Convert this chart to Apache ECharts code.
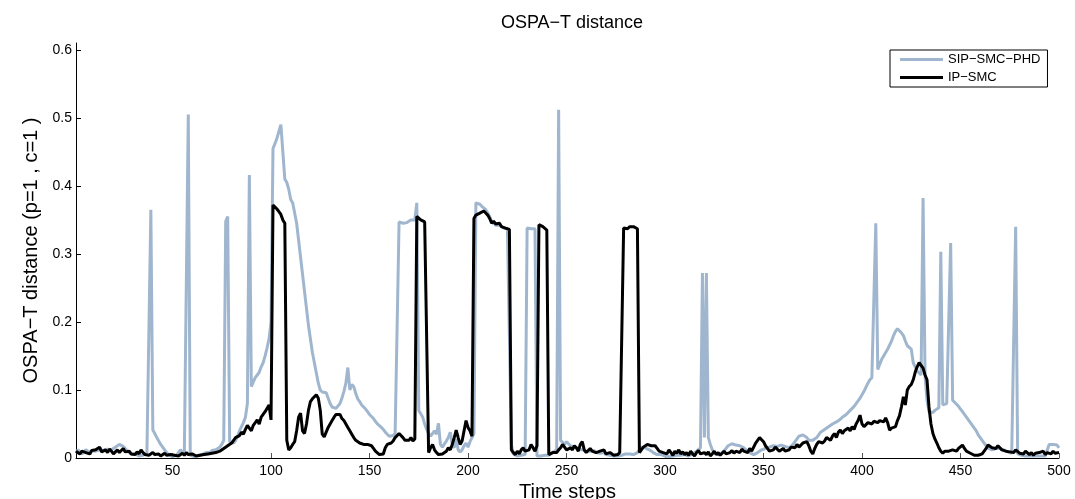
<!DOCTYPE html>
<html>
<head>
<meta charset="utf-8">
<script src="https://cdn.jsdelivr.net/npm/echarts@6/dist/echarts.min.js"></script>
<style>html,body{margin:0;padding:0;background:#fff}#c{width:1075px;height:499px}</style>
</head>
<body>
<div id="c"></div>
<script>
const FONT = "'Liberation Sans', Arial, Helvetica, sans-serif";
const titleText = "OSPA\u2212T distance";
const xName = "Time steps";
const yName = "OSPA\u2212T distance (p=1 , c=1 )";
const seriesNames = ["SIP\u2212SMC\u2212PHD", "IP\u2212SMC"];
const xTicks = [50, 100, 150, 200, 250, 300, 350, 400, 450, 500];
const yTicks = [0, 0.1, 0.2, 0.3, 0.4, 0.5, 0.6];

// SIP-SMC-PHD, time steps 1..500
const sipSmcPhd = [
0.008,0.012,0.010,0.006,0.009,0.012,0.010,0.008,0.011,0.013,
0.010,0.009,0.012,0.014,0.011,0.010,0.013,0.015,0.012,0.014,
0.016,0.018,0.020,0.022,0.017,0.014,0.010,0.008,0.006,0.005,
0.006,0.004,0.003,0.005,0.004,0.006,0.008,0.010,0.365,0.041,
0.036,0.030,0.025,0.020,0.016,0.012,0.008,0.005,0.003,0.002,
0.002,0.004,0.008,0.012,0.010,0.006,0.004,0.505,0.004,0.003,
0.002,0.003,0.004,0.006,0.005,0.007,0.008,0.010,0.008,0.011,
0.010,0.012,0.014,0.016,0.020,0.026,0.348,0.355,0.024,0.022,
0.022,0.026,0.032,0.040,0.046,0.052,0.060,0.080,0.416,0.105,
0.112,0.118,0.122,0.126,0.134,0.140,0.150,0.162,0.175,0.200,
0.455,0.462,0.470,0.480,0.490,0.488,0.410,0.405,0.395,0.380,
0.375,0.360,0.345,0.320,0.295,0.270,0.245,0.220,0.195,0.175,
0.155,0.140,0.125,0.110,0.100,0.097,0.097,0.096,0.095,0.080,
0.075,0.073,0.073,0.075,0.080,0.088,0.098,0.110,0.133,0.100,
0.108,0.105,0.095,0.087,0.083,0.078,0.075,0.072,0.068,0.064,
0.061,0.058,0.054,0.050,0.048,0.045,0.042,0.038,0.035,0.032,
0.030,0.033,0.036,0.035,0.347,0.346,0.345,0.345,0.346,0.348,
0.350,0.352,0.350,0.375,0.070,0.065,0.060,0.050,0.042,0.036,
0.032,0.030,0.040,0.035,0.051,0.020,0.016,0.018,0.025,0.030,
0.038,0.020,0.015,0.028,0.012,0.009,0.012,0.018,0.022,0.016,
0.024,0.030,0.036,0.375,0.377,0.373,0.370,0.368,0.365,0.360,
0.355,0.348,0.345,0.342,0.340,0.342,0.340,0.338,0.338,0.337,
0.336,0.020,0.006,0.004,0.003,0.005,0.004,0.003,0.005,0.338,
0.338,0.337,0.337,0.337,0.003,0.002,0.003,0.002,0.004,0.003,
0.004,0.006,0.008,0.010,0.012,0.512,0.026,0.025,0.020,0.024,
0.022,0.018,0.020,0.016,0.018,0.014,0.015,0.012,0.014,0.010,
0.012,0.010,0.009,0.011,0.008,0.010,0.007,0.006,0.008,0.005,
0.006,0.004,0.005,0.003,0.004,0.003,0.002,0.004,0.005,0.006,
0.005,0.006,0.004,0.005,0.006,0.008,0.012,0.016,0.018,0.015,
0.014,0.012,0.010,0.008,0.006,0.005,0.004,0.005,0.004,0.003,
0.003,0.002,0.004,0.003,0.002,0.004,0.005,0.004,0.006,0.005,
0.004,0.003,0.005,0.006,0.008,0.010,0.012,0.015,0.272,0.030,
0.272,0.030,0.020,0.012,0.008,0.006,0.005,0.006,0.008,0.010,
0.014,0.018,0.020,0.021,0.020,0.019,0.020,0.018,0.016,0.015,
0.012,0.010,0.008,0.006,0.005,0.006,0.008,0.010,0.012,0.012,
0.014,0.015,0.016,0.017,0.018,0.018,0.017,0.018,0.019,0.018,
0.017,0.016,0.015,0.016,0.020,0.024,0.028,0.032,0.034,0.034,
0.033,0.030,0.026,0.024,0.026,0.028,0.030,0.034,0.038,0.040,
0.042,0.044,0.046,0.048,0.050,0.052,0.053,0.055,0.057,0.060,
0.062,0.064,0.066,0.070,0.073,0.076,0.080,0.084,0.088,0.093,
0.098,0.104,0.110,0.115,0.118,0.120,0.345,0.130,0.138,0.145,
0.150,0.155,0.160,0.166,0.172,0.180,0.186,0.190,0.188,0.184,
0.180,0.172,0.165,0.163,0.160,0.140,0.134,0.128,0.125,0.122,
0.382,0.120,0.085,0.068,0.066,0.067,0.070,0.072,0.074,0.303,
0.078,0.078,0.080,0.082,0.316,0.085,0.082,0.080,0.076,0.072,
0.068,0.064,0.060,0.056,0.052,0.048,0.044,0.040,0.034,0.030,
0.026,0.022,0.018,0.015,0.013,0.012,0.013,0.014,0.015,0.014,
0.013,0.012,0.010,0.009,0.008,0.007,0.006,0.340,0.006,0.005,
0.004,0.004,0.003,0.004,0.003,0.004,0.003,0.002,0.003,0.002,
0.003,0.002,0.003,0.005,0.020,0.021,0.020,0.018,0.019,0.015
];

// IP-SMC, time steps 1..500
const ipSmc = [
0.010,0.008,0.006,0.010,0.012,0.008,0.010,0.006,0.011,0.009,
0.012,0.010,0.016,0.009,0.007,0.012,0.008,0.013,0.010,0.006,
0.009,0.012,0.008,0.011,0.014,0.009,0.007,0.010,0.006,0.008,
0.005,0.009,0.006,0.012,0.008,0.005,0.007,0.004,0.006,0.008,
0.005,0.004,0.006,0.003,0.005,0.007,0.004,0.003,0.005,0.006,
0.004,0.006,0.003,0.005,0.007,0.004,0.008,0.005,0.003,0.006,
0.004,0.003,0.002,0.004,0.003,0.005,0.004,0.006,0.004,0.007,
0.006,0.008,0.007,0.010,0.012,0.014,0.013,0.018,0.020,0.022,
0.026,0.030,0.028,0.033,0.038,0.035,0.042,0.048,0.044,0.040,
0.048,0.052,0.056,0.050,0.060,0.064,0.068,0.070,0.078,0.056,
0.372,0.370,0.366,0.362,0.358,0.350,0.345,0.026,0.012,0.015,
0.020,0.024,0.040,0.060,0.066,0.040,0.036,0.050,0.070,0.083,
0.087,0.090,0.093,0.088,0.070,0.035,0.031,0.038,0.045,0.050,
0.055,0.060,0.064,0.066,0.064,0.058,0.055,0.050,0.045,0.040,
0.035,0.030,0.026,0.028,0.022,0.024,0.020,0.022,0.020,0.022,
0.018,0.014,0.010,0.008,0.005,0.004,0.006,0.015,0.020,0.018,
0.022,0.025,0.030,0.032,0.036,0.034,0.030,0.026,0.028,0.026,
0.030,0.025,0.028,0.355,0.353,0.350,0.348,0.347,0.346,0.008,
0.015,0.020,0.012,0.008,0.005,0.004,0.006,0.005,0.010,0.015,
0.012,0.020,0.030,0.041,0.030,0.020,0.025,0.040,0.055,0.045,
0.040,0.032,0.352,0.357,0.358,0.360,0.362,0.363,0.360,0.357,
0.352,0.345,0.348,0.344,0.343,0.345,0.340,0.342,0.338,0.337,
0.336,0.012,0.008,0.005,0.010,0.006,0.012,0.015,0.010,0.008,
0.012,0.020,0.015,0.010,0.018,0.343,0.342,0.340,0.338,0.335,
0.005,0.004,0.008,0.010,0.008,0.012,0.015,0.020,0.018,0.012,
0.010,0.015,0.012,0.018,0.015,0.010,0.020,0.024,0.012,0.008,
0.010,0.014,0.010,0.012,0.008,0.006,0.010,0.008,0.012,0.006,
0.005,0.008,0.006,0.004,0.006,0.005,0.008,0.010,0.338,0.340,
0.337,0.340,0.338,0.340,0.338,0.337,0.008,0.012,0.016,0.018,
0.020,0.020,0.018,0.016,0.018,0.014,0.010,0.012,0.008,0.010,
0.006,0.012,0.008,0.004,0.010,0.007,0.012,0.006,0.009,0.005,
0.008,0.004,0.010,0.006,0.003,0.008,0.011,0.006,0.004,0.008,
0.005,0.009,0.003,0.006,0.010,0.005,0.008,0.004,0.007,0.010,
0.006,0.004,0.008,0.011,0.007,0.010,0.012,0.008,0.013,0.010,
0.012,0.008,0.014,0.010,0.016,0.022,0.026,0.030,0.031,0.024,
0.018,0.014,0.010,0.008,0.012,0.016,0.014,0.010,0.012,0.014,
0.010,0.008,0.012,0.016,0.018,0.015,0.020,0.016,0.018,0.022,
0.020,0.024,0.018,0.010,0.006,0.014,0.020,0.024,0.026,0.022,
0.025,0.030,0.031,0.026,0.032,0.036,0.030,0.038,0.041,0.036,
0.040,0.038,0.044,0.040,0.046,0.042,0.050,0.055,0.063,0.050,
0.046,0.048,0.052,0.053,0.050,0.054,0.056,0.052,0.055,0.054,
0.053,0.059,0.052,0.041,0.044,0.042,0.046,0.055,0.062,0.075,
0.090,0.078,0.100,0.105,0.108,0.115,0.126,0.134,0.140,0.138,
0.132,0.122,0.115,0.075,0.050,0.036,0.028,0.022,0.015,0.010,
0.007,0.010,0.012,0.010,0.008,0.012,0.012,0.010,0.014,0.016,
0.019,0.014,0.010,0.008,0.007,0.005,0.004,0.005,0.004,0.004,
0.006,0.010,0.014,0.019,0.017,0.015,0.016,0.014,0.018,0.015,
0.012,0.014,0.010,0.012,0.009,0.011,0.008,0.012,0.010,0.007,
0.009,0.006,0.010,0.008,0.005,0.008,0.004,0.007,0.005,0.008,
0.006,0.010,0.005,0.008,0.009,0.006,0.010,0.007,0.009,0.008
];

const toPairs = arr => arr.map((v, i) => [i + 1, v]);

const chart = echarts.init(document.getElementById('c'), null, {renderer: 'canvas'});
chart.setOption({
  animation: false,
  backgroundColor: '#fff',
  textStyle: {fontFamily: FONT},
  title: {
    text: titleText, left: 567, top: 9, textAlign: 'center',
    textStyle: {fontFamily: FONT, fontSize: 18, fontWeight: 'normal', color: '#000'}
  },
  grid: {left: 76, right: 16, top: 43, bottom: 41, containLabel: false, outerBoundsMode: 'none'},
  legend: {
    orient: 'vertical', left: 890, top: 50,
    padding: [3, 7, 3, 10], itemGap: 5,
    itemWidth: 43, itemHeight: 3,
    borderColor: '#000', borderWidth: 1, borderRadius: 0,
    backgroundColor: '#fff',
    textStyle: {fontFamily: FONT, fontSize: 13, color: '#000'},
    data: [{name: seriesNames[0], icon: 'rect'}, {name: seriesNames[1], icon: 'rect'}]
  },
  xAxis: {
    type: 'value', min: 1, max: 500,
    name: xName, nameLocation: 'middle', nameGap: 22,
    nameTextStyle: {fontFamily: FONT, fontSize: 20, color: '#000'},
    axisLine: {show: true, lineStyle: {color: '#000', width: 1}},
    axisTick: {show: true, inside: true, length: 5, customValues: xTicks, lineStyle: {color: '#555'}},
    axisLabel: {customValues: xTicks, margin: 6, fontSize: 14, fontFamily: FONT, color: '#000'},
    splitLine: {show: false}
  },
  yAxis: {
    type: 'value', min: 0, max: 0.61,
    name: yName, nameLocation: 'middle', nameGap: 33,
    nameTextStyle: {fontFamily: FONT, fontSize: 20, color: '#000'},
    axisLine: {show: true, lineStyle: {color: '#000', width: 1}},
    axisTick: {show: true, inside: true, length: 5, customValues: yTicks, lineStyle: {color: '#000'}},
    axisLabel: {customValues: yTicks, margin: 4, fontSize: 14, fontFamily: FONT, color: '#000',
      formatter: v => String(Math.round(v * 10) / 10)},
    splitLine: {show: false}
  },
  series: [
    {name: seriesNames[0], type: 'line', data: toPairs(sipSmcPhd), showSymbol: false, symbol: 'none',
     color: '#9fb6ce', lineStyle: {color: '#9fb6ce', width: 3}, z: 2},
    {name: seriesNames[1], type: 'line', data: toPairs(ipSmc), showSymbol: false, symbol: 'none',
     color: '#000', lineStyle: {color: '#000', width: 3}, z: 3}
  ]
});
</script>
</body>
</html>
